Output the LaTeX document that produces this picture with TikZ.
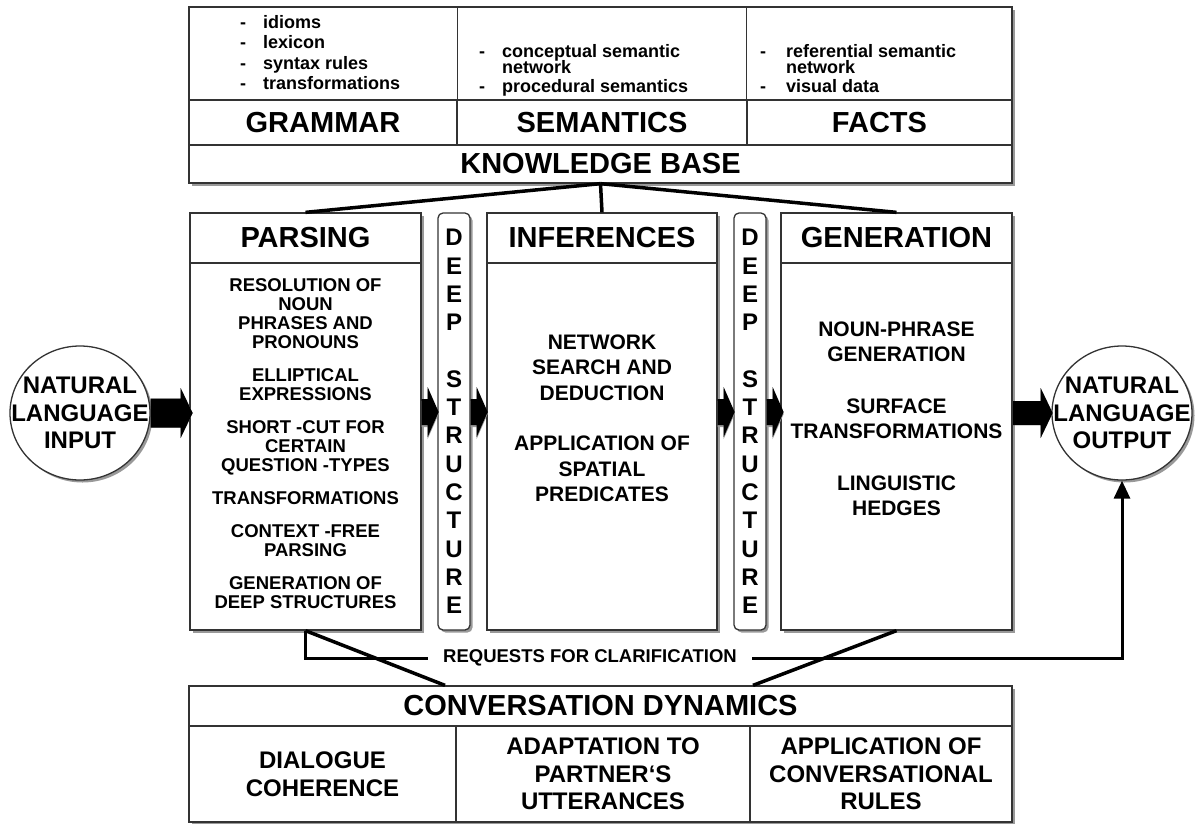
\documentclass[tikz,border=0pt]{standalone}
\usepackage{fontspec}
\setmainfont{Liberation Sans}
\usetikzlibrary{positioning,shapes.geometric,shadows,arrows.meta}

% block arrow: start, body length, body half height, head length, head half height
\newcommand{\blockarrow}[5]{%
  \fill[black!40, xshift=2pt, yshift=-2pt] (#1) ++(0,-#3) -- ++(#2,0) -- ++(0,#3-#5) -- ++(#4,#5) -- ++(-#4,#5) -- ++(0,#3-#5) -- ++(-#2,0) -- cycle;
  \fill[black] (#1) ++(0,-#3) -- ++(#2,0) -- ++(0,#3-#5) -- ++(#4,#5) -- ++(-#4,#5) -- ++(0,#3-#5) -- ++(-#2,0) -- cycle;}

\begin{document}
\begin{tikzpicture}[x=1pt,y=-1pt,
    frame/.style={draw=black!80, line width=1.3pt, fill=white, inner sep=0pt,
      drop shadow={shadow xshift=2.5pt, shadow yshift=-2.5pt, fill=black!40, opacity=1}},
    cell/.style={draw=black!80, line width=1.3pt, inner sep=0pt, align=center},
    grid/.style={draw=black!80, line width=1.3pt},
    bigfont/.style={font=\fontsize{29}{32}\selectfont\bfseries},
    midfont/.style={font=\fontsize{24}{27.5}\selectfont\bfseries},
    boxfont/.style={font=\fontsize{21}{25.5}\selectfont\bfseries},
    smallfont/.style={font=\fontsize{18.5}{19}\selectfont\bfseries},
    listfont/.style={font=\fontsize{18}{20.5}\selectfont\bfseries, anchor=west, inner sep=0pt},
    deepbox/.style={frame, rounded corners=5pt, minimum width=32pt, minimum height=417pt,
      align=center, font=\fontsize{24}{28.3}\selectfont\bfseries},
    talk/.style={frame, ellipse, minimum width=140pt, minimum height=134pt},
    conn/.style={line width=3.5pt},
  ]
  \useasboundingbox (0,0) rectangle (1200,823);

  % knowledge base
  \node[frame, minimum width=823pt, minimum height=176pt] (kb) at (600.5,95) {};
  \node[cell, bigfont, minimum width=268pt, minimum height=45pt] (grammar) at (323,122.5) {GRAMMAR};
  \node[cell, bigfont, minimum width=290pt, minimum height=45pt] (semantics) at (602,122.5) {SEMANTICS};
  \node[cell, bigfont, minimum width=265pt, minimum height=45pt] (facts) at (879.5,122.5) {FACTS};
  \draw[grid] (grammar.north east) -- (grammar.north east |- kb.north);
  \draw[grid] (facts.north west) -- (facts.north west |- kb.north);
  \node[bigfont] (kblabel) at (600.5,164) {KNOWLEDGE BASE};

  \node[listfont] (grammaritems) at (240,55) {\begin{tabular}{@{}l@{\hspace{17pt}}l@{}}
    -&idioms\\ -&lexicon\\ -&syntax rules\\ -&transformations\end{tabular}};
  \node[listfont] (semanticsitems) at (479,71) {\begin{tabular}{@{}l@{\hspace{17pt}}l@{}}
    -&conceptual semantic\\[-4.5pt] &network\\[-2pt] -&procedural semantics\end{tabular}};
  \node[listfont] (factsitems) at (760,71) {\begin{tabular}{@{}l@{\hspace{20pt}}l@{}}
    -&referential semantic\\[-4.5pt] &network\\[-2pt] -&visual data\end{tabular}};

  % processing boxes
  \node[frame, minimum width=231pt, minimum height=417pt] (parsing) at (305.5,421.5) {};
  \node[cell, bigfont, minimum width=231pt, minimum height=50pt] (parsinghead) at (305.5,238) {PARSING};
  \node[smallfont, align=center] (parsingtext) at (305.5,444) {RESOLUTION OF\\ NOUN\\ PHRASES AND\\ PRONOUNS\\[14pt]
    ELLIPTICAL\\ EXPRESSIONS\\[14pt] SHORT -CUT FOR\\ CERTAIN\\ QUESTION -TYPES\\[14pt]
    TRANSFORMATIONS\\[14pt] CONTEXT -FREE\\ PARSING\\[14pt] GENERATION OF\\ DEEP STRUCTURES};

  \node[deepbox] (deep1) at (454,421.5) {D\\E\\E\\P\\[28.3pt]S\\T\\R\\U\\C\\T\\U\\R\\E};

  \node[frame, minimum width=230pt, minimum height=417pt] (infer) at (602,421.5) {};
  \node[cell, bigfont, minimum width=230pt, minimum height=50pt] (inferhead) at (602,238) {INFERENCES};
  \node[boxfont, align=center] (infertext) at (602,418.5) {NETWORK\\ SEARCH AND\\ DEDUCTION\\[25pt]
    APPLICATION OF\\ SPATIAL\\ PREDICATES};

  \node[deepbox] (deep2) at (750,421.5) {D\\E\\E\\P\\[28.3pt]S\\T\\R\\U\\C\\T\\U\\R\\E};

  \node[frame, minimum width=231pt, minimum height=417pt] (gener) at (896.5,421.5) {};
  \node[cell, bigfont, minimum width=231pt, minimum height=50pt] (generhead) at (896.5,238) {GENERATION};
  \node[boxfont, align=center] (genertext) at (896.5,419) {NOUN-PHRASE\\ GENERATION\\[26pt]
    SURFACE\\ TRANSFORMATIONS\\[26pt] LINGUISTIC\\ HEDGES};

  % input and output
  \node[talk] (input) at (80,413) {};
  \node[midfont, align=center] (inputtext) at (input) {NATURAL\\ LANGUAGE\\ INPUT};
  \node[talk] (output) at (1122,413) {};
  \node[midfont, align=center] (outputtext) at (output) {NATURAL\\ LANGUAGE\\ OUTPUT};

  \blockarrow{input.east}{30}{14.5}{12}{25}
  \blockarrow{gener.east |- output.west}{28}{12}{12}{25}
  \foreach \a in {parsing,deep1,infer,deep2}
    {\blockarrow{\a.east |- 0,412}{6}{13}{11}{25}}

  % conversation dynamics
  \node[frame, minimum width=823pt, minimum height=136pt] (cd) at (600.5,754) {};
  \node[cell, bigfont, minimum width=823pt, minimum height=40pt] (cdhead) at (600.5,706) {CONVERSATION DYNAMICS};
  \node[cell, midfont, minimum width=267pt, minimum height=96pt] (dialogue) at (322.5,774) {DIALOGUE\\ COHERENCE};
  \node[cell, midfont, minimum width=294pt, minimum height=96pt] (adapt) at (603,774) {ADAPTATION TO\\ PARTNER‘S\\ UTTERANCES};
  \node[cell, midfont, minimum width=262pt, minimum height=96pt] (rules) at (881,774) {APPLICATION OF\\ CONVERSATIONAL\\ RULES};

  % connectors
  \foreach \b in {parsing,infer,gener}
    \draw[conn] (kb.south) -- (\b.north);

  \node[smallfont, inner xsep=15pt, inner ysep=0pt] (req) at (590,658) {REQUESTS FOR CLARIFICATION};
  \draw[line width=3pt] (parsing.south) |- (req.west);
  \draw[line width=3pt, -{Triangle[length=18pt, width=16pt]}] (req.east) -| (output.south);
  \draw[conn] (parsing.south) -- (cd.north -| 445,0);
  \draw[conn] (gener.south) -- (cd.north -| 753,0);
\end{tikzpicture}
\end{document}
